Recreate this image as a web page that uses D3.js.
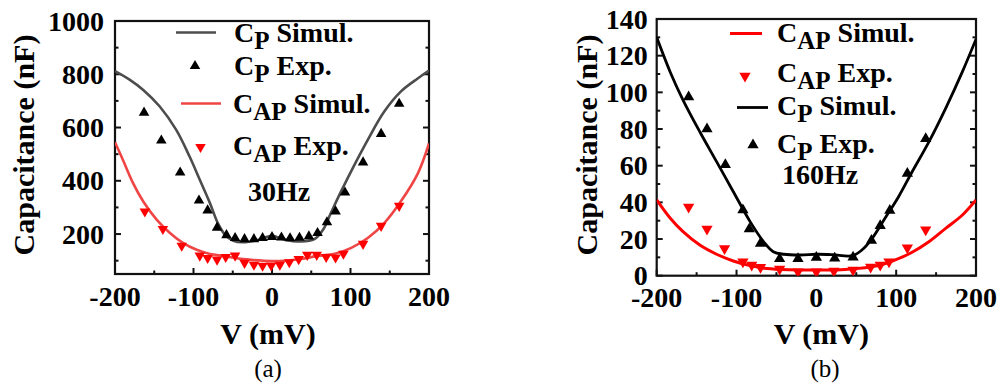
<!DOCTYPE html>
<html><head><meta charset="utf-8">
<script src="https://cdn.jsdelivr.net/npm/d3@7"></script>
<style>body{margin:0;background:#fff}svg{display:block}</style>
</head><body><svg id="c" width="1000" height="385" font-family="Liberation Serif"></svg>
<script>
// ---------- Panel (a) 30Hz ----------
const aCpSimV = [-200,-181,-164,-143,-122,-105,-92,-79,-69,-60,-50,-37,-20,0,16,37,54,65,75,88,105,122,143,164,186,200];
const aCpSimC = [812,779,741,679,591,491,404,316,241,198,176,169,176,193,179,172,181,216,279,360,460,554,660,735,785,814];
const aCapSimV = [-200,-190,-177,-164,-147,-130,-113,-96,-80,-58,-37,-10,10,37,58,80,101,122,143,164,186,200];
const aCapSimC = [545,479,391,322,254,204,166,141,126,116,106,100,99,106,118,126,148,185,241,322,429,540];
const aCpExpV = [-163,-141,-117,-93,-82,-70,-58,-47,-35,-23,-12,0,12,23,35,47,58,70,81,93,116,139,162];
const aCpExpC = [656,551,431,326,289,224,196,185,181,181,185,189,187,184,186,191,204,244,285,356,469,576,689];
const aCapExpV = [-162,-139,-115,-92,-82,-70,-59,-47,-35,-23,-12,-1,10,22,34,45,57,69,81,91,116,139,162];
const aCapExpC = [285,219,156,119,110,104,114,119,92,85,81,82,85,94,106,122,122,114,112,126,163,231,306];
const aYTicks = [200,400,600,800,1000];
// ---------- Panel (b) 160Hz ----------
const bCpSimV = [-200,-183,-167,-146,-125,-104,-83,-66,-54,-41,-20,0,20,45,57,70,86,103,120,141,162,183,200];
const bCpSimC = [130,111,95.8,78.5,62.2,45.8,29.5,18.5,13.1,11.7,11.3,11.7,11.5,10.9,14,20.4,31.3,43.1,56.7,73,91.3,111.3,129];
const bCapSimV = [-200,-183,-167,-146,-125,-104,-83,-62,-33,0,36,78,99,120,141,162,183,200];
const bCapSimC = [41.3,31.3,24,16.7,11.7,8,5.5,3.9,3.2,3.1,3.4,5.5,8.6,12.8,18.5,25.8,33.1,41.3];
const bCpExpV = [-160,-137,-114,-92,-84,-70,-46,-23,0,23,46,69,80,92,114,137];
const bCpExpC = [97.5,80,60.5,35.8,25.5,17.6,9.2,9.2,9.9,9.5,10,19.2,27.3,35.5,55.8,74.7];
const bCapExpV = [-160,-137,-115,-92,-81,-70,-46,-23,0,22,46,68,80,91,114,137];
const bCapExpC = [37.5,25.5,14.9,7.6,5.8,4.6,3.7,2.2,2.2,2.6,3.1,4.8,5.8,7.6,15.2,25.1];
const bYTicks = [0,20,40,60,80,100,120,140];
const xTicks = [-200,-100,0,100,200];

const FONT = '"Liberation Serif", "Times New Roman", serif';
const svg = d3.select("#c").attr("font-family",FONT);
const zip = (v,c) => v.map((x,i)=>({v:x,c:c[i]}));

function panel(o){
  const g = svg.append("g").attr("font-family",FONT);
  const x = d3.scaleLinear().domain([-200,200]).range([o.x0,o.x1]);
  const y = d3.scaleLinear().domain(o.yDom).range([o.y1,o.y0]);
  const id = "clip"+o.name;
  svg.append("clipPath").attr("id",id).append("rect").attr("x",o.x0).attr("y",o.y0).attr("width",o.x1-o.x0).attr("height",o.y1-o.y0);
  const xMin = d3.range(-200,201,50);
  const yMin = d3.range(0, o.yDom[1]+0.01, o.yMinorStep).filter(v=>v>o.yDom[0]||v===0&&o.yDom[0]===0);
  xMin.forEach(v=>{ const L = xTicks.includes(v)?6:3.5;
    g.append("line").attr("x1",x(v)).attr("x2",x(v)).attr("y1",o.y1).attr("y2",o.y1-L).attr("stroke","#111").attr("stroke-width",2);});
  yMin.forEach(v=>{ const L = o.yTicks.includes(v)?6:3.5;
    g.append("line").attr("x1",o.x0).attr("x2",o.x0+L).attr("y1",y(v)).attr("y2",y(v)).attr("stroke","#111").attr("stroke-width",2);
    g.append("line").attr("x1",o.x1).attr("x2",o.x1-L).attr("y1",y(v)).attr("y2",y(v)).attr("stroke","#111").attr("stroke-width",2);});
  g.append("rect").attr("x",o.x0).attr("y",o.y0).attr("width",o.x1-o.x0).attr("height",o.y1-o.y0).attr("fill","none").attr("stroke","#111").attr("stroke-width",2.2);
  xTicks.forEach(v=>g.append("text").attr("x",x(v)).attr("y",o.y1+31.5).attr("text-anchor","middle")
    .attr("font-size",28).attr("font-weight","bold").text(v));
  o.yTicks.forEach(v=>g.append("text").attr("x",o.x0-o.yLabGap).attr("y",y(v)).attr("dy","0.34em").attr("text-anchor","end")
    .attr("font-size",28).attr("font-weight","bold").text(v));
  g.append("text").attr("x",(o.x0+o.x1)/2+o.xtDx).attr("y",344).attr("text-anchor","middle").attr("font-size",30).attr("font-weight","bold").text("V (mV)");
  g.append("text").attr("transform",`translate(${o.ytX},${145}) rotate(-90)`).attr("text-anchor","middle").attr("font-size",30).attr("font-weight","bold").text("Capacitance (nF)");
  g.append("text").attr("x",o.capX).attr("y",377).attr("text-anchor","middle").attr("font-size",25).text(o.caption);
  const line = d3.line().x(d=>x(d.v)).y(d=>y(d.c)).curve(d3.curveCatmullRom.alpha(0.5));
  const pl = g.append("g").attr("clip-path",`url(#${id})`);
  o.lines.forEach(s=>pl.append("path").attr("d",line(s.data)).attr("fill","none").attr("stroke",s.color).attr("stroke-width",s.w));
  const tri = d3.symbol().type(d3.symbolTriangle).size(o.msize);
  o.pts.forEach(s=>s.data.forEach(d=>pl.append("path").attr("d",tri())
    .attr("transform",`translate(${x(d.v)},${y(d.c)}) rotate(${s.down?180:0})`).attr("fill",s.color)));
  o.legend.forEach(r=>{
    if(r.type==="line") g.append("line").attr("x1",r.lx0).attr("x2",r.lx1).attr("y1",r.ly).attr("y2",r.ly).attr("stroke",r.color).attr("stroke-width",r.w);
    else g.append("path").attr("d",tri()).attr("transform",`translate(${r.lx},${r.ly}) rotate(${r.down?180:0})`).attr("fill",r.color);
    const t = g.append("text").attr("x",r.tx).attr("y",r.ty).attr("font-size",28).attr("font-weight","bold");
    t.append("tspan").text("C");
    t.append("tspan").attr("dy",7).attr("font-size",25).text(r.sub);
    t.append("tspan").attr("dy",-7).text(" "+r.label);
  });
  g.append("text").attr("x",o.fx).attr("y",o.fy).attr("font-size",28).attr("font-weight","bold").text(o.freq);
}

panel({name:"a", x0:115, x1:429, y0:21, y1:274, yDom:[50,1000], yTicks:aYTicks, yMinorStep:100, yLabGap:11,
  xtDx:-4, ytX:34, capX:268, caption:"(a)", msize:48,
  lines:[{data:zip(aCpSimV,aCpSimC),color:"#4d4d4d",w:2.6},{data:zip(aCapSimV,aCapSimC),color:"#f04545",w:2.6}],
  pts:[{data:zip(aCpExpV,aCpExpC),color:"#000"},{data:zip(aCapExpV,aCapExpC),color:"#ff0000",down:true}],
  legend:[
    {type:"line",lx0:176,lx1:216,ly:32.5,color:"#4d4d4d",w:2.6,tx:234,ty:41.5,sub:"P",label:"Simul."},
    {type:"pt",lx:195,ly:66,color:"#000",tx:234,ty:75,sub:"P",label:"Exp."},
    {type:"line",lx0:181,lx1:221,ly:103.5,color:"#f04545",w:2.6,tx:233,ty:113,sub:"AP",label:"Simul."},
    {type:"pt",lx:200.5,ly:147,color:"#ff0000",down:true,tx:233,ty:155,sub:"AP",label:"Exp."}],
  freq:"30Hz", fx:248, fy:201});

panel({name:"b", x0:656.7, x1:976, y0:19, y1:275.7, yDom:[0,140], yTicks:bYTicks, yMinorStep:10, yLabGap:9,
  xtDx:5, ytX:597, capX:825, caption:"(b)", msize:55,
  lines:[{data:zip(bCpSimV,bCpSimC),color:"#000",w:2.8},{data:zip(bCapSimV,bCapSimC),color:"#ff0000",w:3}],
  pts:[{data:zip(bCpExpV,bCpExpC),color:"#000"},{data:zip(bCapExpV,bCapExpC),color:"#ff0000",down:true}],
  legend:[
    {type:"line",lx0:730,lx1:762,ly:33.5,color:"#ff0000",w:3,tx:777,ty:41.5,sub:"AP",label:"Simul."},
    {type:"pt",lx:745,ly:76,color:"#ff0000",down:true,tx:777,ty:81.5,sub:"AP",label:"Exp."},
    {type:"line",lx0:737,lx1:768,ly:107.5,color:"#000",w:2.8,tx:777,ty:115,sub:"P",label:"Simul."},
    {type:"pt",lx:753,ly:145,color:"#000",tx:777,ty:152.5,sub:"P",label:"Exp."}],
  freq:"160Hz", fx:782, fy:184});
</script></body></html>
